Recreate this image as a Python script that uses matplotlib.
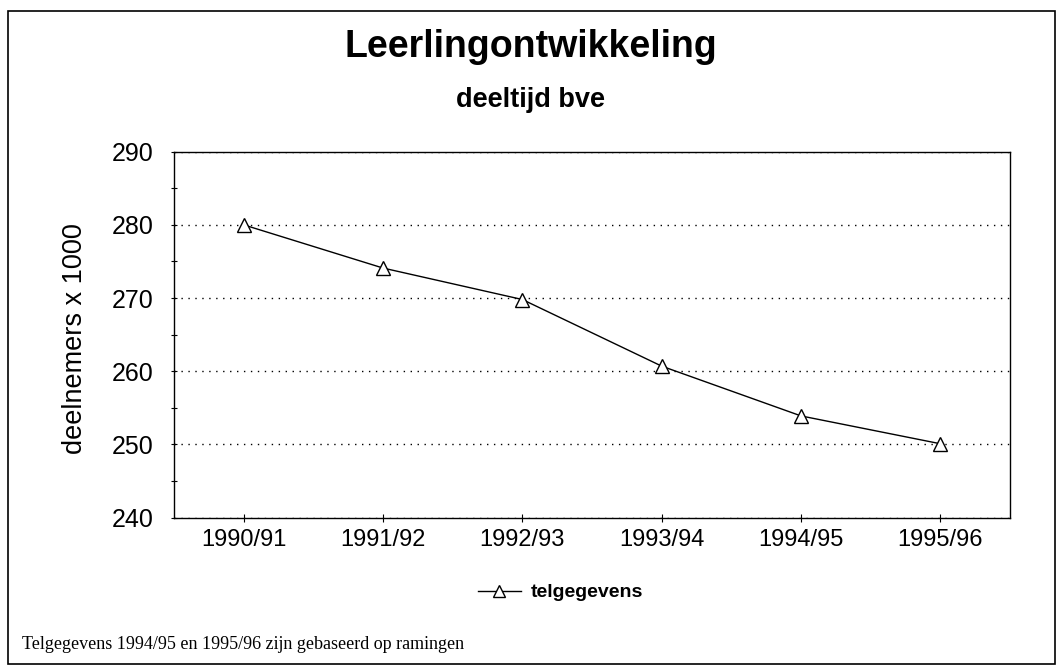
import matplotlib.pyplot as plt
from matplotlib.patches import Rectangle
from matplotlib.lines import Line2D

# data
years = ["1990/91", "1991/92", "1992/93", "1993/94", "1994/95", "1995/96"]
telgegevens = [280.0, 274.1, 269.8, 260.7, 253.9, 250.1]
y_ticks = [240, 250, 260, 270, 280, 290]

fig = plt.figure(figsize=(10.61, 6.68), dpi=100)
fig.patch.set_facecolor("white")

# outer frame round the whole picture
fig.patches.append(Rectangle((0.008, 0.006), 0.986, 0.977, transform=fig.transFigure,
                             fill=False, edgecolor="black", linewidth=1.2))

ax = fig.add_axes([0.164, 0.225, 0.788, 0.548])
x = list(range(len(years)))
ax.plot(x, telgegevens, color="black", linewidth=1.0, marker="^", markersize=10,
        markerfacecolor="white", markeredgecolor="black", markeredgewidth=1.0, zorder=3)

ax.set_xlim(-0.5, len(years) - 0.5)
ax.set_ylim(240, 290)
ax.set_yticks(y_ticks)
ax.set_yticks([245, 255, 265, 275, 285], minor=True)
ax.set_xticks(x)
ax.set_xticklabels(years, fontsize=17, family="Liberation Sans")
ax.set_yticklabels([str(v) for v in y_ticks], fontsize=18, family="Liberation Sans")
ax.tick_params(axis="x", direction="inout", length=6, width=0.8, pad=5)
ax.tick_params(axis="y", which="both", direction="inout", length=4, width=0.8, pad=13)

for sp in ax.spines.values():
    sp.set_linewidth(1.0)
    sp.set_color("black")

ax.grid(axis="y", which="major", linestyle=(0, (1, 4)), color="black", linewidth=1.0)
ax.set_axisbelow(True)

ax.set_ylabel("deelnemers x 1000", fontsize=19.5, family="Liberation Sans")
ax.yaxis.set_label_coords(-0.103, 0.49)

fig.text(0.5, 0.93, "Leerlingontwikkeling", ha="center", va="center",
         fontsize=27, fontweight="bold", family="Liberation Sans")
fig.text(0.5, 0.85, "deeltijd bve", ha="center", va="center",
         fontsize=19.5, fontweight="bold", family="Liberation Sans")

handle = Line2D([], [], color="black", linewidth=1.0, marker="^", markersize=8,
                markerfacecolor="white", markeredgecolor="black")
leg = fig.legend([handle], ["telgegevens"], loc="center", bbox_to_anchor=(0.528, 0.113),
                 frameon=False, handlelength=2.2, handletextpad=0.5,
                 prop={"family": "Liberation Sans", "weight": "bold", "size": 14})

fig.text(0.021, 0.035, "Telgegevens 1994/95 en 1995/96 zijn gebaseerd op ramingen",
         ha="left", va="center", fontsize=13, family="Liberation Serif")

fig.savefig("out.png", dpi=100)
